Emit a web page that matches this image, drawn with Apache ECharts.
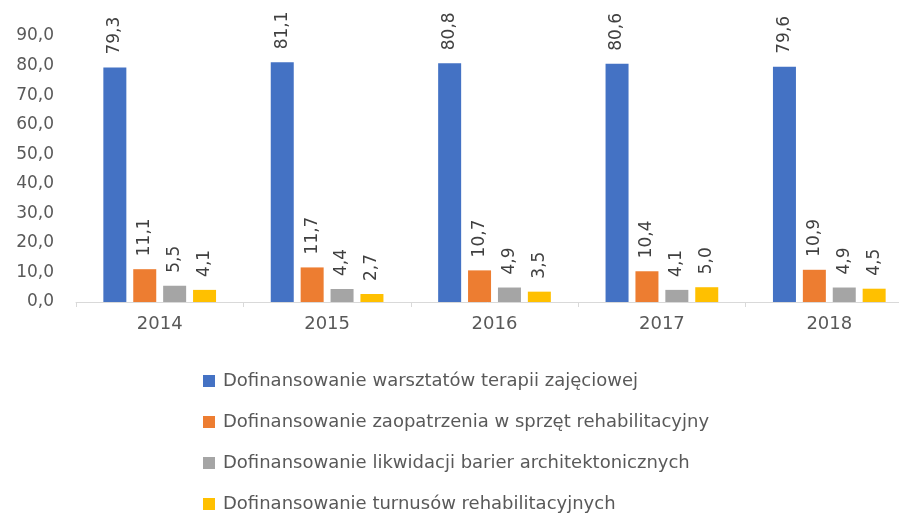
<!DOCTYPE html>
<html>
<head>
<meta charset="utf-8">
<script src="https://cdn.jsdelivr.net/npm/echarts@6/dist/echarts.min.js"></script>
<style>
  html, body { margin: 0; padding: 0; background: #fff; }
  #chart { width: 899px; height: 514px; }
</style>
</head>
<body>
<div id="chart"></div>
<script>
// lata
const years = ['2014', '2015', '2016', '2017', '2018'];
const seriesNames = [
  'Dofinansowanie warsztatów terapii zajęciowej',
  'Dofinansowanie zaopatrzenia w sprzęt rehabilitacyjny',
  'Dofinansowanie likwidacji barier architektonicznych',
  'Dofinansowanie turnusów rehabilitacyjnych'
];
const warsztaty = [79.3, 81.1, 80.8, 80.6, 79.6];
const zaopatrzenie = [11.1, 11.7, 10.7, 10.4, 10.9];
const bariery = [5.5, 4.4, 4.9, 4.1, 4.9];
const turnusy = [4.1, 2.7, 3.5, 5.0, 4.5];
const colors = ['#4472C4', '#ED7D31', '#A5A5A5', '#FFC000'];

const fmt = v => v.toFixed(1).replace('.', ',');
const font = '"DejaVu Sans", "Noto Sans", sans-serif';

const myChart = echarts.init(document.getElementById('chart'));

function makeSeries(name, data, color) {
  return {
    name: name,
    type: 'bar',
    data: data,
    barWidth: 23,
    barGap: '30%',
    itemStyle: { color: color },
    label: {
      show: true,
      position: 'top',
      rotate: 90,
      align: 'left',
      verticalAlign: 'middle',
      distance: 13,
      fontFamily: font,
      fontSize: 17,
      color: '#404040',
      formatter: p => fmt(p.value)
    }
  };
}

const option = {
  animation: false,
  color: colors,
  grid: { left: 76, top: 36, width: 837, height: 266, containLabel: false, outerBoundsMode: 'none' },
  legend: {
    orient: 'vertical',
    left: 203,
    top: 371,
    height: 160,
    padding: 0,
    itemWidth: 12,
    itemHeight: 12,
    itemGap: 21,
    icon: 'rect',
    textStyle: { fontFamily: font, fontSize: 18, lineHeight: 20, color: '#595959', padding: [0, 0, 0, 3] },
    data: seriesNames
  },
  xAxis: {
    type: 'category',
    data: years,
    axisLine: { lineStyle: { color: '#D9D9D9', width: 1 } },
    axisTick: { show: true, length: 5, lineStyle: { color: '#D9D9D9' } },
    axisLabel: { fontFamily: font, fontSize: 18, color: '#595959', margin: 13 }
  },
  yAxis: {
    type: 'value',
    min: 0,
    max: 90,
    interval: 10,
    axisLine: { show: false },
    axisTick: { show: false },
    splitLine: { show: false },
    axisLabel: { fontFamily: font, fontSize: 17, color: '#595959', margin: 22, formatter: v => fmt(v) }
  },
  series: [
    makeSeries(seriesNames[0], warsztaty, colors[0]),
    makeSeries(seriesNames[1], zaopatrzenie, colors[1]),
    makeSeries(seriesNames[2], bariery, colors[2]),
    makeSeries(seriesNames[3], turnusy, colors[3])
  ]
};
myChart.setOption(option);
</script>
</body>
</html>
